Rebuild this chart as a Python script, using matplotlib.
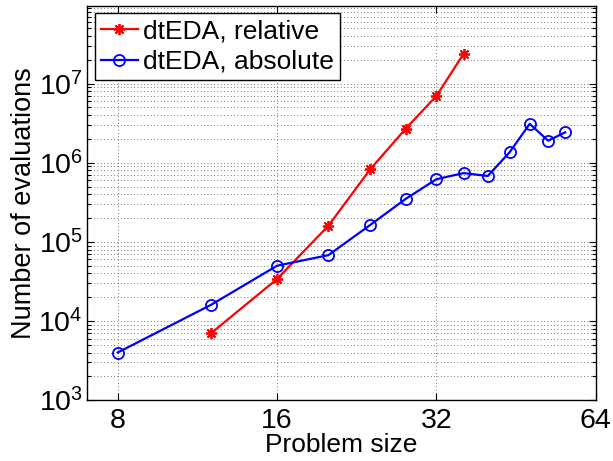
import numpy as np
import matplotlib
matplotlib.use('Agg')
import matplotlib.pyplot as plt
from matplotlib.ticker import FixedLocator, NullLocator, LogLocator, LogFormatterSciNotation

plt.rcParams['font.family'] = ['Liberation Sans', 'DejaVu Sans']

# ---------------------------------------------------------------
# Data
# ---------------------------------------------------------------
n_rel = [12, 16, 20, 24, 28, 32, 36]
ev_rel = [7.0e3, 3.4e4, 1.6e5, 8.3e5, 2.7e6, 7.0e6, 2.38e7]

n_abs = [8, 12, 16, 20, 24, 28, 32, 36, 40, 44, 48, 52, 56]
ev_abs = [4.0e3, 1.6e4, 5.0e4, 6.8e4, 1.64e5, 3.5e5, 6.2e5, 7.4e5,
          6.8e5, 1.36e6, 3.1e6, 1.9e6, 2.42e6]

x_ticks = [8, 16, 32, 64]

# ---------------------------------------------------------------
# Plot
# ---------------------------------------------------------------
fig = plt.figure(figsize=(6.13, 4.61), dpi=100)
ax = fig.add_axes([0.142, 0.132, 0.830, 0.856])

ax.plot(n_rel, ev_rel, '-', color='red', lw=1.6,
        marker=(8, 2, 0), ms=8, mew=1.3, label='dtEDA, relative')
ax.plot(n_abs, ev_abs, '-', color='blue', lw=1.6,
        marker='o', ms=8, mfc='none', mew=1.3, label='dtEDA, absolute')

ax.set_xscale('log', base=2)
ax.set_yscale('log')
ax.set_xlim(7, 64)
ax.set_ylim(1e3, 9.7e7)

ax.xaxis.set_major_locator(FixedLocator(x_ticks))
ax.set_xticklabels([str(t) for t in x_ticks])
ax.xaxis.set_minor_locator(NullLocator())
ax.yaxis.set_major_locator(LogLocator(base=10, numticks=10))
ax.yaxis.set_major_formatter(LogFormatterSciNotation())
ax.yaxis.set_minor_locator(LogLocator(base=10, subs=np.arange(2, 10), numticks=20))

ax.tick_params(which='both', direction='in', top=True, right=True,
               labelsize=20.5, width=0.8)
ax.tick_params(which='major', length=5)
ax.tick_params(which='minor', length=3)
ax.tick_params(axis='x', pad=6)
ax.tick_params(axis='y', pad=3)

grid_kw = dict(ls=(0, (1, 3)), color='0.3', lw=0.6)
ax.grid(True, which='major', **grid_kw)
ax.yaxis.grid(True, which='minor', **grid_kw)

for s in ax.spines.values():
    s.set_linewidth(1.0)

ax.set_xlabel('Problem size', fontsize=19, labelpad=-1)
ax.set_ylabel('Number of evaluations', fontsize=19.5, labelpad=1)

leg = ax.legend(loc='upper left', fontsize=19, frameon=True, fancybox=False,
                edgecolor='black', framealpha=1, borderpad=0.22,
                handlelength=1.4, handletextpad=0.2, labelspacing=0.25,
                borderaxespad=0.3)
leg.get_frame().set_linewidth(1.0)

fig.savefig('out.png', dpi=100)
